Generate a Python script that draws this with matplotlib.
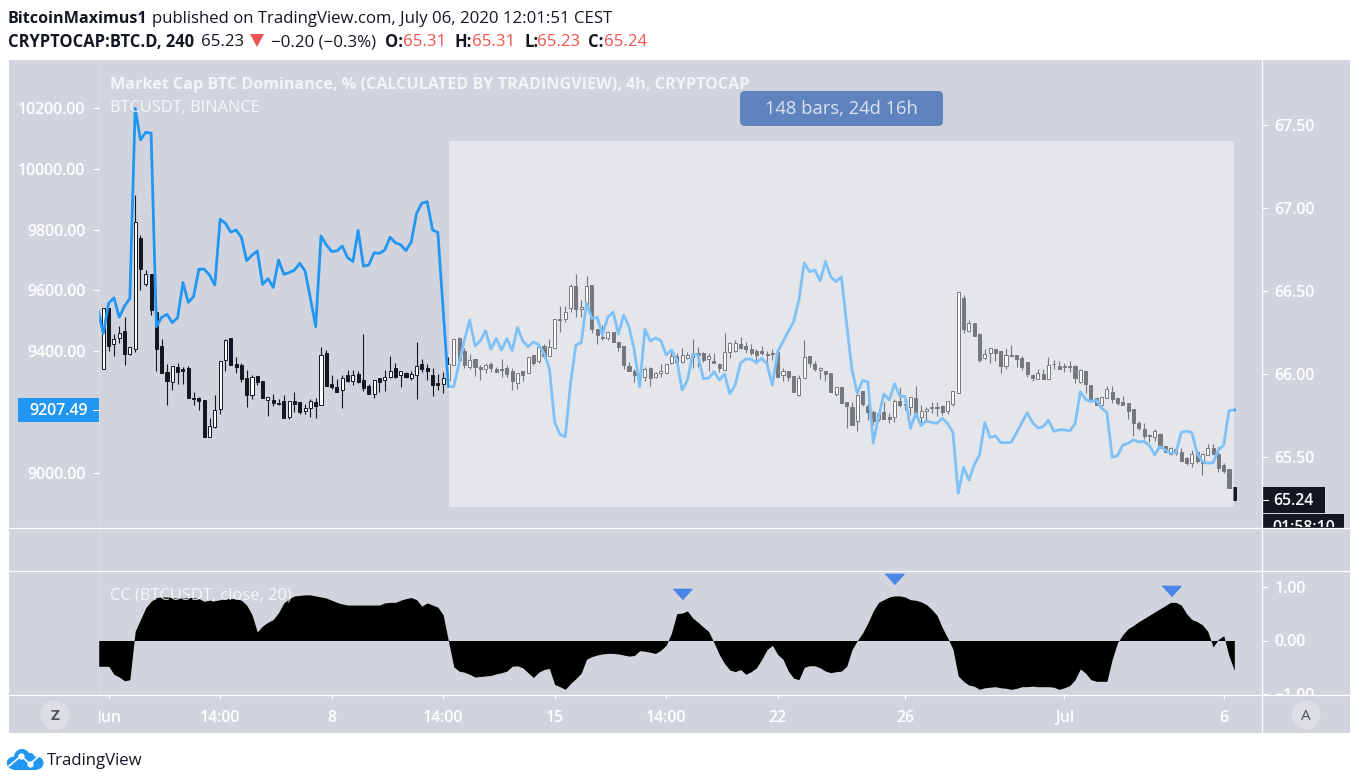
import numpy as np
import matplotlib
matplotlib.use("Agg")
import matplotlib.pyplot as plt
from matplotlib.patches import Rectangle, FancyBboxPatch, Circle, Polygon
from matplotlib.transforms import Bbox

plt.rcParams['font.family'] = ['Open Sans', 'DejaVu Sans']

# --- BTC.D candles, bars 1..214 (right scale) ---
dom_open = [
 66.028,66.396,66.179,66.215,66.257,66.121,66.153,66.818,66.545,66.601,
 66.374,66.169,66.012,65.954,66.043,66.028,66.036,65.854,65.856,65.844,
 65.623,65.681,65.791,66.087,66.215,66.061,66.055,65.976,65.876,65.988,
 65.958,65.846,65.844,65.826,65.838,65.743,65.838,65.830,65.779,65.794,
 65.832,65.812,66.127,65.938,65.922,65.902,65.992,65.960,66.000,65.962,
 65.928,65.882,65.974,65.962,65.984,66.034,65.996,66.004,65.978,65.992,
 66.061,66.036,65.992,65.946,65.938,65.962,66.052,66.215,66.139,66.044,
 66.089,66.040,66.032,66.060,66.030,66.028,66.036,66.016,65.948,66.016,
 66.004,66.113,66.077,66.169,66.109,66.159,66.332,66.334,66.396,66.530,
 66.390,66.406,66.536,66.269,66.221,66.215,66.251,66.191,66.169,66.046,
 66.018,66.004,65.984,66.036,65.984,66.004,66.008,66.065,66.109,66.075,
 66.099,66.105,66.129,66.127,66.089,66.077,66.060,66.024,66.135,66.141,
 66.179,66.169,66.153,66.139,66.137,66.121,66.125,66.131,65.992,66.016,
 65.986,65.876,65.974,66.107,66.060,66.022,66.018,66.004,65.879,65.919,
 65.833,65.801,65.715,65.899,65.807,65.771,65.731,65.771,65.739,65.743,
 65.837,65.819,65.803,65.853,65.739,65.775,65.793,65.793,65.807,65.779,
 65.819,65.887,66.458,66.261,66.307,66.241,66.098,66.124,66.148,66.138,
 66.048,66.114,66.114,66.096,66.070,65.992,65.972,66.000,65.968,66.062,
 66.046,66.046,66.046,66.048,65.954,66.016,65.931,65.853,65.815,65.853,
 65.893,65.855,65.831,65.823,65.791,65.703,65.666,65.634,65.620,65.638,
 65.568,65.520,65.548,65.532,65.492,65.466,65.528,65.462,65.514,65.552,
 65.518,65.452,65.427,65.319]
dom_high = [
 66.396,66.396,66.241,66.289,66.346,66.165,67.079,66.838,66.627,66.601,
 66.416,66.209,66.061,66.047,66.069,66.045,66.049,65.892,65.864,65.844,
 65.735,65.874,66.077,66.211,66.215,66.105,66.069,66.024,65.992,65.988,
 65.958,65.860,65.878,65.850,65.874,65.840,65.892,65.830,65.820,65.848,
 65.854,66.161,66.145,65.992,65.968,65.994,66.024,66.024,66.020,66.241,
 65.940,65.962,65.974,66.024,66.109,66.067,66.016,66.014,66.018,66.191,
 66.091,66.061,66.036,66.000,66.012,66.105,66.209,66.221,66.155,66.121,
 66.089,66.054,66.069,66.073,66.044,66.091,66.054,66.034,66.004,66.016,
 66.105,66.113,66.175,66.181,66.209,66.334,66.410,66.410,66.542,66.603,
 66.446,66.591,66.536,66.269,66.295,66.261,66.251,66.191,66.169,66.073,
 66.028,66.054,66.040,66.044,66.014,66.060,66.058,66.141,66.129,66.155,
 66.133,66.209,66.165,66.135,66.129,66.129,66.069,66.245,66.195,66.205,
 66.221,66.195,66.181,66.149,66.169,66.141,66.149,66.135,66.034,66.016,
 65.986,65.994,66.205,66.107,66.079,66.044,66.018,66.004,65.919,65.919,
 65.833,65.833,65.871,65.899,65.823,65.783,65.763,65.833,65.763,65.847,
 65.923,65.863,65.859,65.927,65.811,65.803,65.833,65.833,65.813,65.835,
 65.895,66.492,66.474,66.325,66.307,66.249,66.148,66.154,66.148,66.138,
 66.154,66.174,66.114,66.108,66.070,66.000,66.028,66.028,66.100,66.084,
 66.078,66.068,66.076,66.054,66.028,66.016,65.931,65.853,65.859,65.927,
 65.927,65.855,65.867,65.823,65.791,65.715,65.703,65.638,65.666,65.646,
 65.568,65.562,65.552,65.552,65.502,65.542,65.528,65.526,65.578,65.578,
 65.558,65.462,65.427,65.319]
dom_low = [
 66.028,66.141,66.111,66.185,66.055,66.117,66.135,66.506,66.530,66.356,
 66.020,66.008,65.814,65.904,65.940,65.940,65.858,65.814,65.783,65.623,
 65.623,65.677,65.759,66.020,66.055,66.008,65.954,65.804,65.852,65.934,
 65.858,65.747,65.808,65.814,65.737,65.731,65.774,65.759,65.759,65.743,
 65.737,65.812,65.930,65.910,65.894,65.798,65.954,65.936,65.944,65.900,
 65.882,65.856,65.894,65.900,65.978,65.976,65.924,65.978,65.964,65.852,
 66.010,65.964,65.870,65.904,65.884,65.958,66.052,66.048,66.034,66.028,
 65.988,65.964,66.004,66.014,66.014,65.984,65.980,65.904,65.908,65.960,
 66.004,66.054,66.069,66.101,66.109,66.159,66.255,66.316,66.376,66.342,
 66.346,66.390,66.245,66.181,66.205,66.205,66.195,66.141,66.032,66.020,
 65.954,65.948,65.960,65.928,65.978,65.980,66.008,66.060,66.054,66.065,
 66.089,66.034,66.044,66.075,66.020,66.065,66.014,66.024,66.099,66.135,
 66.149,66.129,66.115,66.060,66.115,66.060,66.085,65.980,65.960,65.960,
 65.894,65.870,65.974,66.040,66.016,65.968,65.960,65.894,65.867,65.827,
 65.676,65.695,65.658,65.807,65.723,65.693,65.719,65.727,65.703,65.713,
 65.803,65.783,65.753,65.739,65.686,65.723,65.767,65.747,65.753,65.757,
 65.807,65.887,66.249,66.255,66.231,66.072,66.088,66.068,66.080,66.008,
 66.028,66.110,66.044,66.024,65.980,65.960,65.972,65.968,65.968,66.032,
 66.032,66.014,66.014,65.944,65.948,65.883,65.849,65.815,65.807,65.853,
 65.827,65.813,65.815,65.729,65.626,65.662,65.610,65.590,65.598,65.552,
 65.532,65.514,65.512,65.478,65.452,65.442,65.462,65.391,65.514,65.520,
 65.411,65.405,65.315,65.241]
dom_close = [
 66.396,66.171,66.209,66.249,66.123,66.165,66.914,66.635,66.601,66.384,
 66.153,66.008,65.960,66.047,66.014,66.020,65.858,65.850,65.840,65.623,
 65.687,65.783,66.077,66.205,66.055,66.045,65.970,65.876,65.982,65.954,
 65.858,65.860,65.828,65.820,65.737,65.840,65.822,65.774,65.796,65.838,
 65.810,66.113,65.930,65.920,65.894,65.974,65.960,65.992,65.954,65.918,
 65.882,65.962,65.954,65.984,66.016,65.984,66.016,65.984,65.998,66.047,
 66.030,66.020,65.936,65.936,65.974,66.059,66.209,66.085,66.054,66.085,
 66.044,66.032,66.052,66.034,66.014,66.022,66.000,65.956,66.004,65.996,
 66.105,66.069,66.163,66.109,66.161,66.334,66.328,66.372,66.530,66.390,
 66.406,66.530,66.273,66.237,66.215,66.253,66.195,66.165,66.052,66.020,
 65.996,65.980,66.032,65.974,66.004,66.020,66.058,66.107,66.075,66.113,
 66.113,66.123,66.113,66.085,66.107,66.069,66.038,66.131,66.185,66.189,
 66.157,66.153,66.127,66.115,66.129,66.115,66.119,65.980,66.016,65.984,
 65.894,65.974,66.101,66.069,66.032,66.036,66.000,65.894,65.919,65.827,
 65.809,65.695,65.871,65.817,65.773,65.719,65.763,65.727,65.727,65.837,
 65.813,65.815,65.859,65.739,65.775,65.791,65.799,65.799,65.773,65.835,
 65.895,66.492,66.273,66.305,66.231,66.084,66.118,66.154,66.128,66.048,
 66.112,66.110,66.092,66.042,65.998,65.976,66.004,65.968,66.052,66.058,
 66.032,66.040,66.042,65.978,66.022,65.940,65.849,65.815,65.859,65.907,
 65.849,65.823,65.815,65.779,65.707,65.676,65.626,65.626,65.656,65.566,
 65.532,65.552,65.522,65.478,65.462,65.518,65.476,65.518,65.554,65.520,
 65.436,65.417,65.315,65.241]

# --- BTCUSDT close, bars 0..214 (left scale) ---
btc_close = [
 9536,9459,9558,9576,9512,9549,9574,10199,10095,10120,
 10117,9481,9512,9522,9494,9511,9626,9561,9580,9670,
 9670,9651,9618,9834,9821,9792,9799,9775,9698,9716,
 9730,9620,9639,9610,9700,9653,9659,9667,9689,9664,
 9574,9481,9779,9750,9728,9730,9746,9708,9695,9797,
 9680,9684,9724,9722,9733,9775,9757,9750,9731,9760,
 9854,9887,9892,9799,9791,9536,9284,9284,9361,9437,
 9503,9418,9434,9468,9407,9442,9404,9442,9402,9478,
 9434,9415,9431,9422,9393,9344,9167,9127,9119,9295,
 9421,9428,9558,9508,9512,9454,9512,9529,9457,9519,
 9481,9404,9284,9472,9434,9444,9435,9388,9404,9372,
 9273,9304,9390,9388,9310,9312,9333,9306,9325,9260,
 9289,9361,9375,9374,9363,9377,9358,9289,9399,9432,
 9465,9497,9569,9691,9662,9667,9632,9695,9645,9629,
 9645,9487,9339,9262,9304,9300,9098,9185,9260,9240,
 9293,9253,9251,9147,9196,9156,9171,9166,9163,9180,
 9163,9133,8933,9019,8977,9026,9059,9166,9117,9122,
 9100,9100,9101,9133,9166,9198,9166,9148,9152,9174,
 9137,9142,9142,9138,9161,9267,9242,9235,9240,9213,
 9199,9052,9057,9092,9098,9109,9102,9104,9090,9060,
 9087,9076,9065,9067,9133,9138,9133,9065,9037,9032,
 9034,9076,9092,9205,9207.49]

# --- CC (BTCUSDT, close, 20), bars 0..214 ---
cc_values = [
 -.48,-.48,-.48,-.63,-.68,-.75,-.73,.17,.39,.61,
 .73,.80,.81,.81,.80,.79,.79,.80,.80,.78,
 .73,.75,.74,.76,.78,.78,.78,.75,.66,.48,
 .16,.27,.34,.39,.52,.70,.78,.83,.84,.85,
 .85,.83,.81,.79,.75,.71,.68,.66,.66,.66,
 .66,.66,.66,.66,.70,.71,.71,.75,.78,.80,
 .76,.64,.70,.66,.62,.48,-.01,
 -.49,-.57,-.59,-.63,-.68,-.67,-.66,-.65,-.62,-.60,
 -.57,-.48,-.47,-.51,-.60,-.69,-.59,-.54,-.52,-.82,
 -.86,-.91,-.80,-.71,-.61,-.35,-.30,-.27,-.25,-.24,
 -.24,-.25,-.27,-.29,-.28,-.19,-.20,-.22,-.24,-.18,
 -.09,.14,.50,.51,.55,.42,.34,.25,.17,-.04,
 -.26,-.43,-.55,-.58,-.54,-.63,-.58,-.51,-.35,-.17,
 -.09,-.26,-.35,-.57,-.70,-.73,-.50,-.47,-.47,-.51,
 -.57,-.60,-.58,-.57,-.48,-.17,0,.14,.33,.55,
 .71,.76,.81,.83,.83,.81,.76,.75,.72,.67,
 .58,.47,.24,.05,-.16,-.66,-.76,-.83,-.85,-.91,
 -.88,-.87,-.86,-.88,-.89,-.91,-.89,-.86,-.86,-.85,
 -.86,-.86,-.86,-.87,-.91,-.88,-.84,-.73,-.53,-.61,
 -.73,-.76,-.76,-.76,-.35,-.04,.11,.22,.28,.35,
 .41,.47,.53,.59,.65,.71,.71,.66,.50,.39,
 .35,.29,.17,-.12,.02,.09,-.29,-.56]

cc_flag_bars = [110, 150, 202]
cc_flag_levels = [0.857, 1.136, 0.931]

# 9200.00 is hidden behind the current-price label in the reference
price_ticks = [9000, 9400, 9600, 9800, 10000, 10200]
dom_ticks = [65.5, 66.0, 66.5, 67.0, 67.5]
cc_ticks = [-1, 0, 1]
date_bars = [2, 23, 44, 65, 86, 107, 128, 152, 182, 212]
date_labels = ['Jun', '14:00', '8', '14:00', '15', '14:00', '22', '26', 'Jul', '6']

# --- layout (pixels of the 1359x784 picture) ---
W, H = 1359, 784
PANE = '#D1D4DC'
DARK = '#131722'
BLUE = '#2196F3'
RED = '#EF5350'
FS = 11.4
TICK_W = 600

def rect(x0, y0, x1, y1):
    return [x0 / W, 1 - y1 / H, (x1 - x0) / W, (y1 - y0) / H]

def px_box(x0, y0, x1, y1):
    return Bbox([[x0, H - y1], [x1, H - y0]])

fig = plt.figure(figsize=(W / 100, H / 100), dpi=100, facecolor='white')

bg = fig.add_axes([0, 0, 1, 1], zorder=0)
bg.set_xlim(0, W); bg.set_ylim(H, 0); bg.axis('off')
bg.add_patch(Rectangle((9, 60), 1341, 673, fc=PANE, ec='none'))

# bar index <-> pixel: px = 103.3 + 5.31 (n - 1)
xlim = ((99 - 103.3) / 5.31 + 1, (1262 - 103.3) / 5.31 + 1)

bars = np.arange(1, len(dom_open) + 1)
o, h, l, c = map(np.array, (dom_open, dom_high, dom_low, dom_close))
up = c >= o

ax_dom = fig.add_axes(rect(99, 60, 1262, 528), zorder=1, facecolor='none')
ax_dom.set_xlim(*xlim)
ax_dom.set_ylim(65.5 + (457 - 528) / 166, 65.5 + (457 - 60) / 166)
ax_dom.vlines(bars, l, h, color=DARK, lw=0.8, zorder=2)
ax_dom.bar(bars, np.abs(c - o), bottom=np.minimum(o, c), width=0.58,
           color=np.where(up, 'white', DARK), edgecolor=DARK, linewidth=0.7, zorder=3)
ax_dom.set_xticks([])
for s in ax_dom.spines.values():
    s.set_visible(False)

ax_price = ax_dom.twinx()
ax_price.set_zorder(2)
ax_price.set_facecolor('none')
ax_price.set_ylim(9000 + (473 - 528) / 0.3042, 9000 + (473 - 60) / 0.3042)
ax_price.plot(np.arange(len(btc_close)), btc_close, color=BLUE, lw=2.0, solid_joinstyle='round')
ax_price.yaxis.tick_left()
ax_price.set_yticks(price_ticks)
ax_price.set_yticklabels([f'{v:.2f}' for v in price_ticks], fontweight=TICK_W)
ax_price.tick_params(axis='y', colors='white', length=4, width=0.8, pad=5.8, labelsize=FS)
for s in ax_price.spines.values():
    s.set_visible(False)

ax_dom.yaxis.tick_right()
ax_dom.set_yticks(dom_ticks)
ax_dom.set_yticklabels([f'{v:.2f}' for v in dom_ticks], fontweight=TICK_W)
ax_dom.tick_params(axis='y', colors='white', length=4, width=0.8, pad=5, labelsize=FS)

ax_cc = fig.add_axes(rect(99, 571, 1262, 695), zorder=1, facecolor='none')
ax_cc.set_xlim(*xlim)
ax_cc.set_ylim((640.5 - 695) / 53.7, (640.5 - 571) / 53.7)
ax_cc.fill_between(np.arange(len(cc_values)), cc_values, 0, color='black', lw=0)
ax_cc.plot(cc_flag_bars, cc_flag_levels, ls='none', color='#4A86E8', ms=13.5,
           marker=[(-1, 0.55), (1, 0.55), (0, -0.55)], clip_on=False)
ax_cc.yaxis.tick_right()
ax_cc.set_yticks(cc_ticks)
ax_cc.set_yticklabels(['\u22121.00', '0.00', '1.00'], fontweight=TICK_W)
ax_cc.tick_params(axis='y', colors='white', length=4, width=0.8, pad=5, labelsize=FS)
ax_cc.set_xticks(date_bars)
ax_cc.set_xticklabels(date_labels, fontweight=TICK_W)
ax_cc.tick_params(axis='x', colors='white', length=3, width=0.8, pad=8, labelsize=FS)
for s in ax_cc.spines.values():
    s.set_visible(False)
for t in ax_cc.get_yticklabels():
    t.set_clip_box(px_box(1262, 571, 1350, 695)); t.set_clip_on(True)
for t in ax_cc.get_xticklabels():
    t.set_clip_box(px_box(99, 696, 1262, 733)); t.set_clip_on(True)

# --- overlay furniture ---
top = fig.add_axes([0, 0, 1, 1], zorder=5, facecolor='none')
top.set_xlim(0, W); top.set_ylim(H, 0); top.axis('off')

top.add_patch(Rectangle((449, 141), 785, 366, fc='white', ec='none', alpha=0.42))
for y in (528, 571, 695):
    top.plot([9, 1350], [y, y], color='white', lw=0.9)
top.plot([1262, 1262], [60, 733], color='white', lw=0.9)
top.plot([99, 99], [60, 695], color='white', lw=0.8, alpha=0.2)

top.add_patch(FancyBboxPatch((743, 94), 197, 29, boxstyle='round,pad=3,rounding_size=5',
                             fc='#5E83BE', ec='none'))
top.text(841, 108.5, '148 bars, 24d 16h', color='#DCE3F0', fontsize=13.2, ha='center', va='center')

top.add_patch(Rectangle((18, 398), 81, 24, fc=BLUE, ec='none'))
top.plot([93, 99], [410, 410], color='white', lw=0.8)
top.text(59, 411, '9207.49', color='white', fontsize=FS, fontweight=TICK_W, ha='center', va='center')

top.add_patch(Rectangle((1262, 487), 63, 26, fc=DARK, ec='none'))
top.text(1293.5, 501, '65.24', color='white', fontsize=FS, fontweight=TICK_W, ha='center', va='center')
top.plot([1262, 1268], [500, 500], color='white', lw=0.8)
top.add_patch(Rectangle((1263, 514), 81, 14, fc=DARK, ec='none'))
t = top.text(1304, 528, '01:58:10', color='white', fontsize=FS, fontweight=TICK_W, ha='center', va='center')
t.set_clip_box(px_box(1263, 510, 1344, 527)); t.set_clip_on(True)

top.text(110, 85, 'Market Cap BTC Dominance, % (CALCULATED BY TRADINGVIEW), 4h, CRYPTOCAP',
         color='white', alpha=0.75, fontsize=11.6, fontweight='bold', va='center')
top.text(110, 108, 'BTCUSDT, BINANCE', color='white', alpha=0.8, fontsize=11.75, va='center')
top.text(110, 595, 'CC (BTCUSDT, close, 20)', color='white', alpha=0.8, fontsize=11.85, va='center')

for cx, s in ((55, 'Z'), (1306, 'A')):
    top.add_patch(Circle((cx, 715), 14.5, fc='#DCDEE4', ec='none'))
    top.text(cx, 716, s, color='#50535E', fontsize=11, fontweight='bold' if s == 'Z' else 'normal',
             ha='center', va='center')

# header
top.text(7.5, 19, 'BitcoinMaximus1', color=DARK, fontsize=11.6, fontweight='bold', va='center')
top.text(152, 19, 'published on TradingView.com, July 06, 2020 12:01:51 CEST', color=DARK,
         fontsize=12.1, va='center')
top.text(7.5, 42, 'CRYPTOCAP:BTC.D, 240', color=DARK, fontsize=11.9, fontweight='bold', va='center')
top.text(201, 42, '65.23', color=DARK, fontsize=12.2, va='center')
top.add_patch(Polygon([(250, 34), (264, 34), (257, 47)], fc=RED, ec='none'))
top.text(271, 42, '\u22120.20 (\u22120.3%)', color=DARK, fontsize=12.2, va='center')
for lab, lx, val, vx in (('O:', 385, '65.31', 403), ('H:', 455, '65.31', 472),
                         ('L:', 524, '65.23', 537), ('C:', 588, '65.24', 604)):
    top.text(lx, 42, lab, color=DARK, fontsize=11.9, fontweight='bold', va='center')
    top.text(vx, 42, val, color=RED, fontsize=12.2, va='center')

# logo
for cx, cy, r in ((22, 757, 8), (13, 763, 6.2), (37, 763, 6.5), (30, 758, 5)):
    top.add_patch(Circle((cx, cy), r, fc=BLUE, ec='none'))
top.add_patch(Rectangle((13, 760), 24, 9.5, fc=BLUE, ec='none'))
top.plot([9, 21, 30, 38], [766, 756, 764, 757], color='white', lw=1.2)
top.plot([21, 30], [756, 764], ls='none', marker='o', color='white', ms=3.5)
top.text(47, 761, 'TradingView', color=DARK, fontsize=12.1, va='center')

fig.savefig('out.png', dpi=100, facecolor='white')
